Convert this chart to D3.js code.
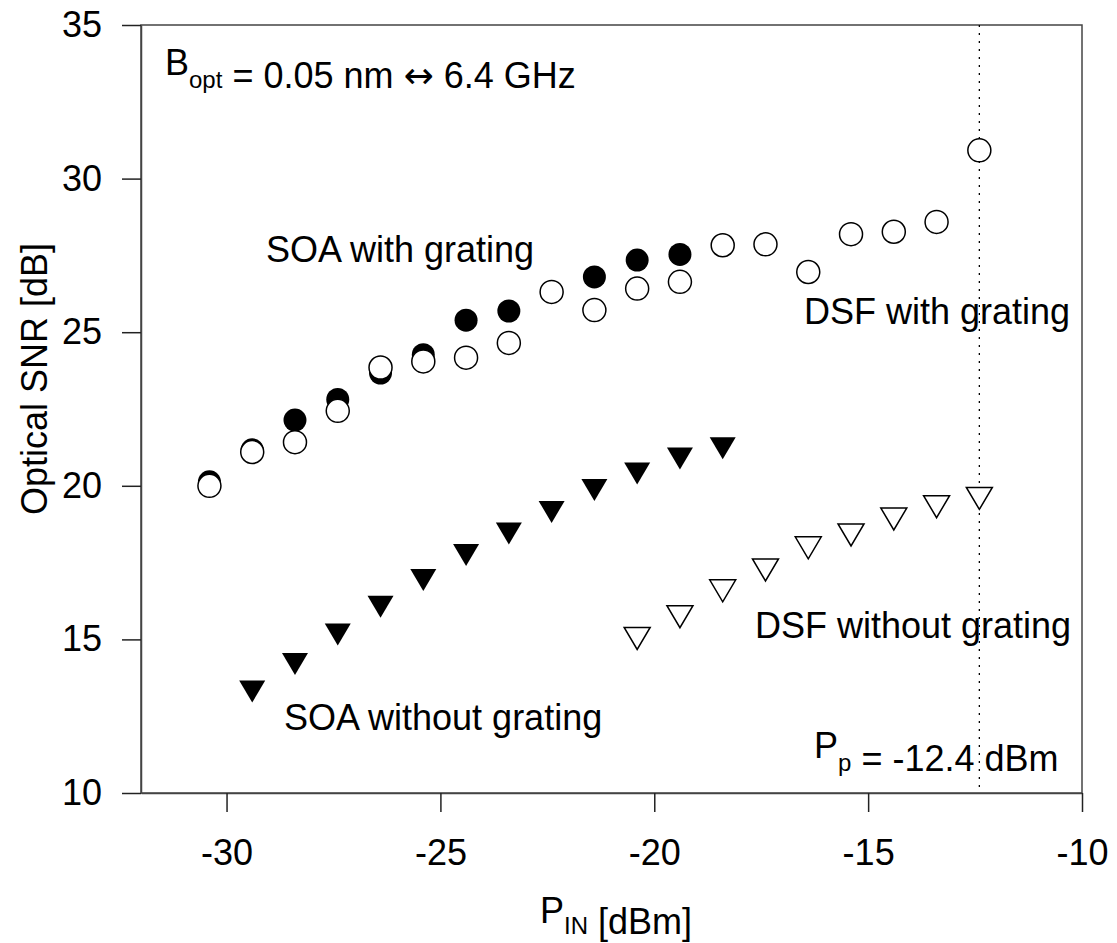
<!DOCTYPE html>
<html>
<head>
<meta charset="utf-8">
<script src="https://cdn.jsdelivr.net/npm/d3@7"></script>
<style>
  body { margin: 0; background: #fff; }
  text { font-family: "Liberation Sans", Arial, sans-serif; fill: #000; }
</style>
</head>
<body>
<div id="wrapper"></div>
<script>
// input power [dBm] for each series
const xSoaGrating = [-30.4, -29.4, -28.4, -27.4, -26.4, -25.4, -24.4, -23.4, -22.4, -21.4, -20.4, -19.4];
const ySoaGrating = [20.13, 21.17, 22.14, 22.81, 23.67, 24.27, 25.39, 25.69, 26.31, 26.80, 27.35, 27.53];

const xDsfGrating = [-30.4, -29.4, -28.4, -27.4, -26.4, -25.4, -24.4, -23.4, -22.4, -21.4, -20.4, -19.4, -18.4, -17.4, -16.4, -15.4, -14.4, -13.4, -12.4];
const yDsfGrating = [20.0, 21.1, 21.42, 22.44, 23.85, 24.05, 24.17, 24.65, 26.31, 25.72, 26.42, 26.64, 27.83, 27.86, 26.96, 28.19, 28.27, 28.59, 30.92];

const xSoaNoGrating = [-29.4, -28.4, -27.4, -26.4, -25.4, -24.4, -23.4, -22.4, -21.4, -20.4, -19.4, -18.4];
const ySoaNoGrating = [13.30, 14.20, 15.16, 16.06, 16.93, 17.75, 18.45, 19.15, 19.86, 20.40, 20.89, 21.22];

const xDsfNoGrating = [-20.4, -19.4, -18.4, -17.4, -16.4, -15.4, -14.4, -13.4, -12.4];
const yDsfNoGrating = [15.03, 15.74, 16.58, 17.26, 17.98, 18.40, 18.92, 19.32, 19.59];

const xTicks = [-30, -25, -20, -15, -10];
const yTicks = [10, 15, 20, 25, 30, 35];
const pumpPower = -12.4;

const zip = (xs, ys) => xs.map((x, i) => ({x: x, y: ys[i]}));

const dimension = {
    width: 1117,
    height: 943,
    margin: { top: 25, left: 141, bottom: 150, right: 35 }
};
dimension.boundedWidth = dimension.width - dimension.margin.left - dimension.margin.right;
dimension.boundedHeight = dimension.height - dimension.margin.top - dimension.margin.bottom;

const svg = d3.select("#wrapper").append("svg")
    .attr("width", dimension.width)
    .attr("height", dimension.height);

const bounded = svg.append("g")
    .attr("transform", `translate(${dimension.margin.left},${dimension.margin.top})`);

const xScaler = d3.scaleLinear().domain([-32, -10]).range([0, dimension.boundedWidth]);
const yScaler = d3.scaleLinear().domain([10, 35]).range([dimension.boundedHeight, 0]);

// frame
bounded.append("rect")
    .attr("width", dimension.boundedWidth)
    .attr("height", dimension.boundedHeight)
    .attr("fill", "none")
    .attr("stroke", "#444")
    .attr("stroke-width", 1.5);

// plain hyphen for negatives, like the original
const xAxis = d3.axisBottom(xScaler).tickValues(xTicks).tickFormat(d => String(d))
    .tickSize(19).tickSizeOuter(0).tickPadding(27);
const yAxis = d3.axisLeft(yScaler).tickValues(yTicks).tickFormat(d => String(d))
    .tickSize(19).tickSizeOuter(0).tickPadding(20);

const gx = bounded.append("g")
    .attr("transform", `translate(0,${dimension.boundedHeight})`)
    .call(xAxis);
const gy = bounded.append("g").call(yAxis);

[gx, gy].forEach(g => {
    g.select(".domain").attr("stroke", "#444").attr("stroke-width", 1.5);
    g.selectAll(".tick line").attr("stroke", "#222").attr("stroke-width", 1.5);
    g.selectAll(".tick text")
        .style("font-family", "'Liberation Sans', Arial, sans-serif")
        .style("font-size", "36px")
        .attr("fill", "#000");
});

// pump power marker
bounded.append("line")
    .attr("x1", xScaler(pumpPower)).attr("x2", xScaler(pumpPower))
    .attr("y1", 0).attr("y2", dimension.boundedHeight)
    .attr("stroke", "#000")
    .attr("stroke-width", 1.3)
    .attr("stroke-dasharray", "2,6");

const tri = "M-13,-11L13,-11L0,11Z";

// SOA with grating (filled circles)
bounded.selectAll(".soaG").data(zip(xSoaGrating, ySoaGrating)).join("circle")
    .attr("cx", d => xScaler(d.x)).attr("cy", d => yScaler(d.y))
    .attr("r", 11.5).attr("fill", "#000");

// DSF with grating (open circles)
bounded.selectAll(".dsfG").data(zip(xDsfGrating, yDsfGrating)).join("circle")
    .attr("cx", d => xScaler(d.x)).attr("cy", d => yScaler(d.y))
    .attr("r", 11.5).attr("fill", "#fff").attr("stroke", "#000").attr("stroke-width", 1.5);

// SOA without grating (filled triangles)
bounded.selectAll(".soaN").data(zip(xSoaNoGrating, ySoaNoGrating)).join("path")
    .attr("d", tri)
    .attr("transform", d => `translate(${xScaler(d.x)},${yScaler(d.y)})`)
    .attr("fill", "#000");

// DSF without grating (open triangles)
bounded.selectAll(".dsfN").data(zip(xDsfNoGrating, yDsfNoGrating)).join("path")
    .attr("d", tri)
    .attr("transform", d => `translate(${xScaler(d.x)},${yScaler(d.y)})`)
    .attr("fill", "#fff").attr("stroke", "#000").attr("stroke-width", 1.5);

// annotations
function label(x, y, parts, shift) {
    shift = shift || 13;
    const t = svg.append("text").attr("x", x).attr("y", y).style("font-size", "36px");
    parts.forEach(p => {
        if (p.sub) {
            t.append("tspan").attr("dy", shift).style("font-size", "24px").text(p.sub);
            t.append("tspan").attr("dy", -shift).text("");
        } else if (p.sym) {
            t.append("tspan").style("font-family", "'DejaVu Sans', sans-serif").text(p.sym);
        } else {
            t.append("tspan").text(p.t);
        }
    });
    return t;
}

label(165, 75, [{t: "B"}, {sub: "opt"}, {t: " = 0.05 nm "}, {sym: "\u2194"}, {t: " 6.4 GHz"}]);
label(266, 262, [{t: "SOA with grating"}]);
label(804, 324, [{t: "DSF with grating"}]);
label(755, 638, [{t: "DSF without grating"}]);
label(284, 730, [{t: "SOA without grating"}]);
label(814, 758, [{t: "P"}, {sub: "p"}, {t: " = -12.4 dBm"}]);

// axis titles
label(540, 923, [{t: "P"}, {sub: "IN"}, {t: " [dBm]"}], 11);

svg.append("text")
    .attr("text-anchor", "middle")
    .attr("transform", "translate(47,379)rotate(-90)")
    .style("font-size", "36px")
    .text("Optical SNR [dB]");
</script>
</body>
</html>
